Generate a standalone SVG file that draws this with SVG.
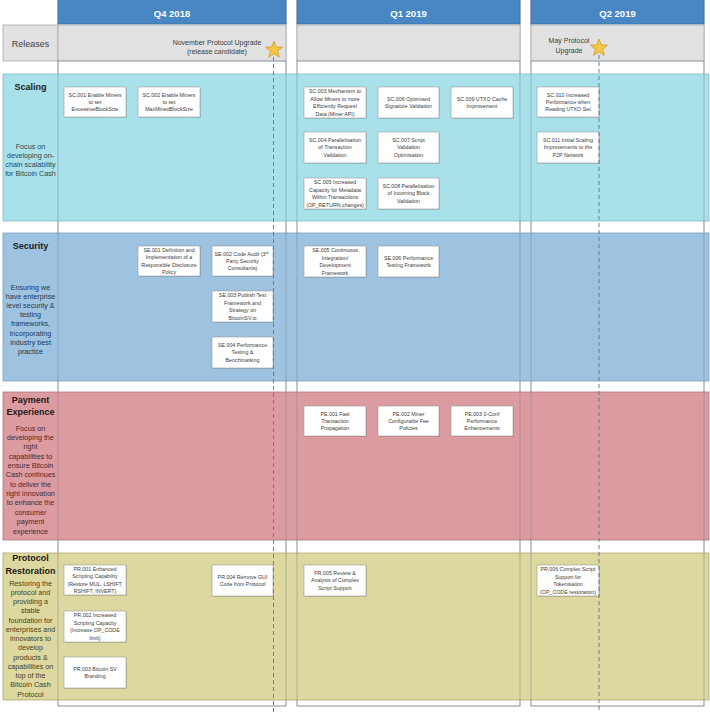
<svg xmlns="http://www.w3.org/2000/svg" xmlns:xlink="http://www.w3.org/1999/xlink" width="710" height="713" viewBox="0 0 710 713">
<style>
.col{fill:#ffffff;stroke:#a3a3a3;stroke-width:0.8}
.colline{fill:none;stroke:#6f7f8c;stroke-opacity:0.55;stroke-width:0.8}
.hdr{fill:#4887c3;stroke:#3570a6;stroke-width:0.8}
.hdrt{font-family:"Liberation Sans",Arial,sans-serif;font-size:9.5px;font-weight:bold;fill:#ffffff;text-anchor:middle}
.rel{fill:#e1e1e1;stroke:#a8a8a8;stroke-width:0.8}
.relt{font-family:"Liberation Sans",Arial,sans-serif;font-size:7px;fill:#404040;text-anchor:middle}
.relh{font-family:"Liberation Sans",Arial,sans-serif;font-size:9px;fill:#404040;text-anchor:middle}
.box{fill:#ffffff;stroke:#9a9a9a;stroke-width:0.6}
.shd{fill:#000000;fill-opacity:0.12}
.bt{font-family:"Liberation Sans",Arial,sans-serif;font-size:5.3px;fill:#3a3a3a;text-anchor:middle}
.lt{font-family:"Liberation Sans",Arial,sans-serif;font-size:9px;font-weight:bold;fill:#1a1a1a;text-anchor:middle}
.ld{font-family:"Liberation Sans",Arial,sans-serif;font-size:7.2px;text-anchor:middle}
.dash{stroke:#5f7488;stroke-width:0.9;stroke-dasharray:4 3;fill:none}
.star{fill:#f6c744;stroke:#d29a1c;stroke-width:0.8}
</style>
<defs>
<path id="starshape" d="M0,-9 L2.23,-3.07 L8.56,-2.78 L3.61,1.17 L5.29,7.28 L0,3.8 L-5.29,7.28 L-3.61,1.17 L-8.56,-2.78 L-2.23,-3.07 Z"/>
</defs>
<rect x="0" y="0" width="710" height="713" fill="#ffffff"/>

<g id="columns">
<rect class="col" x="58" y="0" width="228" height="706"/>
<rect class="col" x="297" y="0" width="223" height="706"/>
<rect class="col" x="531" y="0" width="173" height="706"/>
<rect class="hdr" x="58" y="-1" width="228" height="25"/>
<rect class="hdr" x="297" y="-1" width="223" height="25"/>
<rect class="hdr" x="531" y="-1" width="173" height="25"/>
<text class="hdrt" x="172" y="17">Q4 2018</text>
<text class="hdrt" x="408.5" y="17">Q1 2019</text>
<text class="hdrt" x="617.5" y="17">Q2 2019</text>
</g>

<g id="releases">
<rect class="rel" x="3" y="25" width="55" height="36"/>
<rect class="rel" x="58" y="25" width="228" height="36"/>
<rect class="rel" x="297" y="25" width="223" height="36"/>
<rect class="rel" x="531" y="25" width="173" height="36"/>
<text class="relh" x="30.5" y="47">Releases</text>
<text class="relt" x="217" y="45">November Protocol Upgrade</text>
<text class="relt" x="217" y="54">(release candidate)</text>
<text class="relt" x="569" y="42.5">May Protocol</text>
<text class="relt" x="569" y="53">Upgrade</text>
</g>

<g id="lane-scaling">
<rect x="3" y="74" width="706" height="147" fill="#a9e1ea" stroke="#82bcc7" stroke-width="0.8"/>
<text class="lt" x="30.5" y="90">Scaling</text>
<text class="ld" fill="#2a4a52"><tspan x="30.5" y="148.5">Focus on</tspan><tspan x="30.5" y="157.5">developing on-</tspan><tspan x="30.5" y="166.5">chain scalability</tspan><tspan x="30.5" y="175.5">for Bitcoin Cash</tspan></text>
</g>
<g id="lane-security">
<rect x="3" y="233" width="706" height="148" fill="#9dc3e1" stroke="#7a9fc0" stroke-width="0.8"/>
<text class="lt" x="30.5" y="249">Security</text>
<text class="ld" fill="#22384d"><tspan x="30.5" y="289.5">Ensuring we</tspan><tspan x="30.5" y="298.7">have enterprise</tspan><tspan x="30.5" y="307.9">level security &amp;</tspan><tspan x="30.5" y="317.1">testing</tspan><tspan x="30.5" y="326.3">frameworks,</tspan><tspan x="30.5" y="335.5">incorporating</tspan><tspan x="30.5" y="344.7">industry best</tspan><tspan x="30.5" y="353.9">practice</tspan></text>
</g>
<g id="lane-payment">
<rect x="3" y="392" width="706" height="148" fill="#dc9aa1" stroke="#b07880" stroke-width="0.8"/>
<text class="lt" x="30.5" y="403">Payment</text>
<text class="lt" x="30.5" y="415">Experience</text>
<text class="ld" fill="#4a2a2e"><tspan x="30.5" y="430.5">Focus on</tspan><tspan x="30.5" y="439.9">developing the</tspan><tspan x="30.5" y="449.2">right</tspan><tspan x="30.5" y="458.6">capabilities to</tspan><tspan x="30.5" y="467.9">ensure Bitcoin</tspan><tspan x="30.5" y="477.3">Cash continues</tspan><tspan x="30.5" y="486.7">to deliver the</tspan><tspan x="30.5" y="496">right innovation</tspan><tspan x="30.5" y="505.4">to enhance the</tspan><tspan x="30.5" y="514.7">consumer</tspan><tspan x="30.5" y="524.1">payment</tspan><tspan x="30.5" y="533.5">experience</tspan></text>
</g>
<g id="lane-protocol">
<rect x="3" y="553" width="706" height="147" fill="#ddd89f" stroke="#b0ab72" stroke-width="0.8"/>
<text class="lt" x="30.5" y="561">Protocol</text>
<text class="lt" x="30.5" y="574">Restoration</text>
<text class="ld" fill="#45421f"><tspan x="30.5" y="585.5">Restoring the</tspan><tspan x="30.5" y="594.8">protocol and</tspan><tspan x="30.5" y="604">providing a</tspan><tspan x="30.5" y="613.3">stable</tspan><tspan x="30.5" y="622.5">foundation for</tspan><tspan x="30.5" y="631.8">enterprises and</tspan><tspan x="30.5" y="641">innovators to</tspan><tspan x="30.5" y="650.3">develop</tspan><tspan x="30.5" y="659.5">products &amp;</tspan><tspan x="30.5" y="668.8">capabilities on</tspan><tspan x="30.5" y="678">top of the</tspan><tspan x="30.5" y="687.3">Bitcoin Cash</tspan><tspan x="30.5" y="696.5">Protocol</tspan></text>
</g>

<g id="column-lines">
<rect class="colline" x="58" y="61" width="228" height="645"/>
<rect class="colline" x="297" y="61" width="223" height="645"/>
<rect class="colline" x="531" y="61" width="173" height="645"/>
</g>

<g id="SC001"><rect class="shd" x="65" y="88" width="62" height="30"/><rect class="box" x="64" y="87" width="62" height="30"/><text class="bt"><tspan x="95" y="96.5">SC.001 Enable Miners</tspan><tspan x="95" y="103.9">to set</tspan><tspan x="95" y="111.3">ExcessiveBlockSize</tspan></text></g>
<g id="SC002"><rect class="shd" x="139" y="88" width="62" height="30"/><rect class="box" x="138" y="87" width="62" height="30"/><text class="bt"><tspan x="169" y="96.5">SC.002 Enable Miners</tspan><tspan x="169" y="103.9">to set</tspan><tspan x="169" y="111.3">MaxMinedBlockSize</tspan></text></g>
<g id="SC003"><rect class="shd" x="305" y="88" width="62" height="31"/><rect class="box" x="304" y="87" width="62" height="31"/><text class="bt"><tspan x="335" y="93.3">SC.003 Mechanism to</tspan><tspan x="335" y="100.7">Allow Miners to more</tspan><tspan x="335" y="108.1">Efficiently Request</tspan><tspan x="335" y="115.5">Data (Miner API)</tspan></text></g>
<g id="SC006"><rect class="shd" x="379" y="88" width="61" height="31"/><rect class="box" x="378" y="87" width="61" height="31"/><text class="bt"><tspan x="408.5" y="100.7">SC.006 Optimised</tspan><tspan x="408.5" y="108.1">Signature Validation</tspan></text></g>
<g id="SC009"><rect class="shd" x="452" y="88" width="62" height="31"/><rect class="box" x="451" y="87" width="62" height="31"/><text class="bt"><tspan x="482" y="100.7">SC.009 UTXO Cache</tspan><tspan x="482" y="108.1">Improvement</tspan></text></g>
<g id="SC010"><rect class="shd" x="538" y="88" width="62" height="30"/><rect class="box" x="537" y="87" width="62" height="30"/><text class="bt"><tspan x="568" y="96.5">SC.010 Increased</tspan><tspan x="568" y="103.9">Performance when</tspan><tspan x="568" y="111.3">Reading UTXO Set</tspan></text></g>
<g id="SC004"><rect class="shd" x="305" y="133" width="62" height="31"/><rect class="box" x="304" y="132" width="62" height="31"/><text class="bt"><tspan x="335" y="142">SC.004 Parallelisation</tspan><tspan x="335" y="149.4">of Transaction</tspan><tspan x="335" y="156.8">Validation</tspan></text></g>
<g id="SC007"><rect class="shd" x="379" y="133" width="61" height="31"/><rect class="box" x="378" y="132" width="61" height="31"/><text class="bt"><tspan x="408.5" y="142">SC.007 Script</tspan><tspan x="408.5" y="149.4">Validation</tspan><tspan x="408.5" y="156.8">Optimisation</tspan></text></g>
<g id="SC011"><rect class="shd" x="538" y="133" width="62" height="31"/><rect class="box" x="537" y="132" width="62" height="31"/><text class="bt"><tspan x="568" y="142">SC.011 Initial Scaling</tspan><tspan x="568" y="149.4">Improvements to the</tspan><tspan x="568" y="156.8">P2P Network</tspan></text></g>
<g id="SC005"><rect class="shd" x="305" y="179" width="62" height="31"/><rect class="box" x="304" y="178" width="62" height="31"/><text class="bt"><tspan x="335" y="184.3">SC.005 Increased</tspan><tspan x="335" y="191.7">Capacity for Metadata</tspan><tspan x="335" y="199.1">Within Transactions</tspan><tspan x="335" y="206.5">(OP_RETURN changes)</tspan></text></g>
<g id="SC008"><rect class="shd" x="379" y="179" width="61" height="31"/><rect class="box" x="378" y="178" width="61" height="31"/><text class="bt"><tspan x="408.5" y="188">SC.008 Parallelisation</tspan><tspan x="408.5" y="195.4">of Incoming Block</tspan><tspan x="408.5" y="202.8">Validation</tspan></text></g>

<g id="SE001"><rect class="shd" x="139" y="247" width="62" height="30"/><rect class="box" x="138" y="246" width="62" height="30"/><text class="bt"><tspan x="169" y="251.8">SE.001 Definition and</tspan><tspan x="169" y="259.2">Implementation of a</tspan><tspan x="169" y="266.6">Responsible Disclosure</tspan><tspan x="169" y="274">Policy</tspan></text></g>
<g id="SE002"><rect class="shd" x="213" y="247" width="61" height="30"/><rect class="box" x="212" y="246" width="61" height="30"/><text class="bt"><tspan x="241.5" y="255.5">SE.002 Code Audit (3<tspan font-size="3.4px" dy="-1.8">rd</tspan></tspan><tspan x="242.5" y="262.9">Party Security</tspan><tspan x="242.5" y="270.3">Consultants)</tspan></text></g>
<g id="SE003"><rect class="shd" x="213" y="292" width="61" height="31"/><rect class="box" x="212" y="291" width="61" height="31"/><text class="bt"><tspan x="242.5" y="297.3">SE.003 Publish Test</tspan><tspan x="242.5" y="304.7">Framework and</tspan><tspan x="242.5" y="312.1">Strategy on</tspan><tspan x="242.5" y="319.5">BitcoinSV.io</tspan></text></g>
<g id="SE004"><rect class="shd" x="213" y="338" width="61" height="31"/><rect class="box" x="212" y="337" width="61" height="31"/><text class="bt"><tspan x="242.5" y="347">SE.004 Performance</tspan><tspan x="242.5" y="354.4">Testing &amp;</tspan><tspan x="242.5" y="361.8">Benchmarking</tspan></text></g>
<g id="SE005"><rect class="shd" x="305" y="247" width="62" height="31"/><rect class="box" x="304" y="246" width="62" height="31"/><text class="bt"><tspan x="335" y="252.3">SE.005 Continuous</tspan><tspan x="335" y="259.7">Integration/</tspan><tspan x="335" y="267.1">Development</tspan><tspan x="335" y="274.5">Framework</tspan></text></g>
<g id="SE006"><rect class="shd" x="379" y="247" width="61" height="31"/><rect class="box" x="378" y="246" width="61" height="31"/><text class="bt"><tspan x="408.5" y="259.7">SE.006 Performance</tspan><tspan x="408.5" y="267.1">Testing Framework</tspan></text></g>

<g id="PE001"><rect class="shd" x="305" y="407" width="62" height="30"/><rect class="box" x="304" y="406" width="62" height="30"/><text class="bt"><tspan x="335" y="415.5">PE.001 Fast</tspan><tspan x="335" y="422.9">Transaction</tspan><tspan x="335" y="430.3">Propagation</tspan></text></g>
<g id="PE002"><rect class="shd" x="379" y="407" width="61" height="30"/><rect class="box" x="378" y="406" width="61" height="30"/><text class="bt"><tspan x="408.5" y="415.5">PE.002 Miner</tspan><tspan x="408.5" y="422.9">Configurable Fee</tspan><tspan x="408.5" y="430.3">Policies</tspan></text></g>
<g id="PE003"><rect class="shd" x="452" y="407" width="62" height="30"/><rect class="box" x="451" y="406" width="62" height="30"/><text class="bt"><tspan x="482" y="415.5">PE.003 0-Conf</tspan><tspan x="482" y="422.9">Performance</tspan><tspan x="482" y="430.3">Enhancements</tspan></text></g>

<g id="PR001"><rect class="shd" x="65" y="566" width="62" height="30"/><rect class="box" x="64" y="565" width="62" height="30"/><text class="bt"><tspan x="95" y="570.8">PR.001 Enhanced</tspan><tspan x="95" y="578.2">Scripting Capability</tspan><tspan x="95" y="585.6">(Restore MUL, LSHIFT,</tspan><tspan x="95" y="593">RSHIFT, INVERT)</tspan></text></g>
<g id="PR002"><rect class="shd" x="65" y="612" width="62" height="31"/><rect class="box" x="64" y="611" width="62" height="31"/><text class="bt"><tspan x="95" y="617.3">PR.002 Increased</tspan><tspan x="95" y="624.7">Scripting Capacity</tspan><tspan x="95" y="632.1">(Increase OP_CODE</tspan><tspan x="95" y="639.5">limit)</tspan></text></g>
<g id="PR003"><rect class="shd" x="65" y="658" width="62" height="31"/><rect class="box" x="64" y="657" width="62" height="31"/><text class="bt"><tspan x="95" y="670.7">PR.003 Bitcoin SV</tspan><tspan x="95" y="678.1">Branding</tspan></text></g>
<g id="PR004"><rect class="shd" x="213" y="566" width="61" height="31"/><rect class="box" x="212" y="565" width="61" height="31"/><text class="bt"><tspan x="242.5" y="578.7">PR.004 Remove GUI</tspan><tspan x="242.5" y="586.1">Code from Protocol</tspan></text></g>
<g id="PR005"><rect class="shd" x="305" y="566" width="62" height="31"/><rect class="box" x="304" y="565" width="62" height="31"/><text class="bt"><tspan x="335" y="575">PR.005 Review &amp;</tspan><tspan x="335" y="582.4">Analysis of Complex</tspan><tspan x="335" y="589.8">Script Support</tspan></text></g>
<g id="PR006"><rect class="shd" x="538" y="566" width="62" height="31"/><rect class="box" x="537" y="565" width="62" height="31"/><text class="bt"><tspan x="568" y="571.3">PR.006 Complex Script</tspan><tspan x="568" y="578.7">Support for</tspan><tspan x="568" y="586.1">Tokenisation</tspan><tspan x="568" y="593.5">(OP_CODE restoration)</tspan></text></g>

<g id="milestones">
<line class="dash" x1="273.5" y1="57" x2="273.5" y2="713"/>
<line class="dash" x1="599" y1="55" x2="599" y2="713"/>
<use href="#starshape" xlink:href="#starshape" class="star" transform="translate(274,50)"/>
<use href="#starshape" xlink:href="#starshape" class="star" transform="translate(599,48)"/>
</g>
</svg>
